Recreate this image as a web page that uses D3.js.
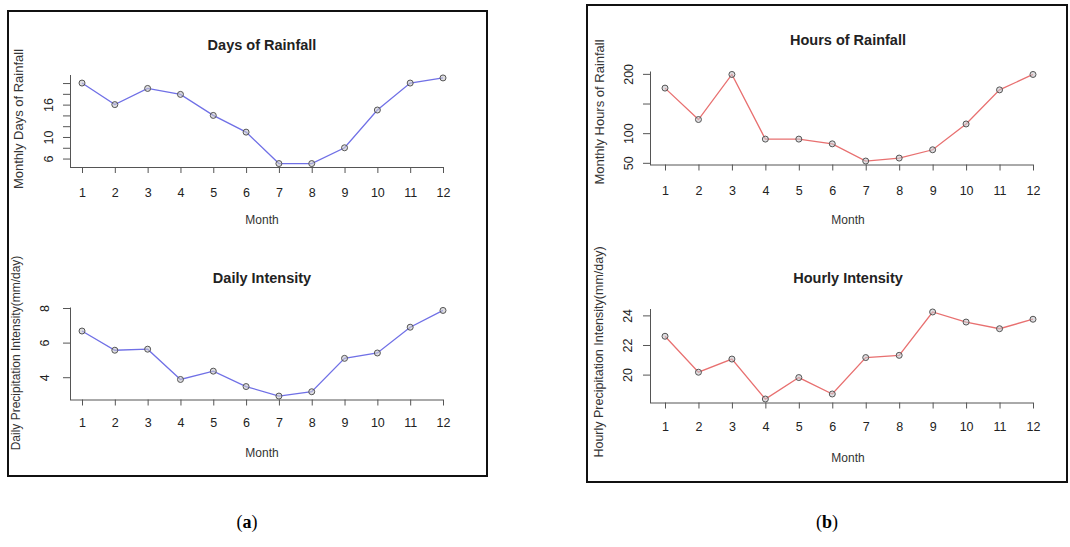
<html>
<head>
<script src="https://d3js.org/d3.v7.min.js"></script>
<style>
  body { margin: 0; background: #fff; }
  text { font-family: "Liberation Sans", Arial, sans-serif; fill: #222; }
  .axis { color: #555; }
  .axis text { fill: #222; }
</style>
</head>
<body>
<div id="graph"></div>
<script>
  // values
  const months = [1, 2, 3, 4, 5, 6, 7, 8, 9, 10, 11, 12];
  const daysOfRain = [20.0, 16.0, 19.0, 17.9, 14.0, 10.9, 5.07, 5.07, 8.0, 15.0, 20.0, 20.95];
  const dailyIntensity = [6.67, 5.56, 5.62, 3.87, 4.35, 3.46, 2.91, 3.16, 5.09, 5.40, 6.89, 7.86];
  const hoursOfRain = [176, 123, 199, 90, 90, 82, 53, 58, 72, 115.5, 173, 199];
  const hourlyIntensity = [22.59, 20.16, 21.05, 18.35, 19.8, 18.69, 21.15, 21.3, 24.23, 23.55, 23.1, 23.74];

  // y tick values and the ones that carry a label
  const daysTicks = [6, 8, 10, 12, 14, 16, 18, 20], daysLabels = [6, 10, 16];
  const dailyTicks = [4, 6, 8], dailyLabels = [4, 6, 8];
  const hoursTicks = [50, 100, 150, 200], hoursLabels = [50, 100, 200];
  const hourlyTicks = [20, 22, 24], hourlyLabels = [20, 22, 24];

  const titles = ['Days of Rainfall', 'Daily Intensity', 'Hours of Rainfall', 'Hourly Intensity'];
  const yTitles = ['Monthly Days of Rainfall', 'Daily Precipitation Intensity(mm/day)',
                   'Monthly Hours of Rainfall', 'Hourly Precipitation Intensity(mm/day)'];
  const xTitle = 'Month';
  const captions = ['a', 'b'];

  var svg = d3.select('#graph')
    .append('svg')
    .attr('width', 1070)
    .attr('height', 547);

  // panel frames
  svg.append('rect').attr('x', 8).attr('y', 11).attr('width', 479).attr('height', 465)
    .attr('fill', 'none').attr('stroke', '#111').attr('stroke-width', 2);
  svg.append('rect').attr('x', 587).attr('y', 5).attr('width', 480).attr('height', 477)
    .attr('fill', 'none').attr('stroke', '#111').attr('stroke-width', 2);

  function plot(o) {
    var x = d3.scaleLinear().domain([1, 12]).range([o.x0, o.x1]);
    // R style: data range padded by 4%
    var ext = d3.extent(o.values), pad = (ext[1] - ext[0]) * 0.04;
    var y = d3.scaleLinear().domain([ext[0] - pad, ext[1] + pad]).range([o.bottom, o.top]);

    // y axis
    var ya = svg.append('g')
      .attr('class', 'axis')
      .attr('transform', 'translate(' + o.left + ',0)')
      .call(d3.axisLeft(y).tickValues(o.ticks).tickSize(7).tickSizeOuter(0)
        .tickFormat(function (d) { return o.labels.indexOf(d) >= 0 ? d : ''; }))
      .attr('font-size', 12.5)
      .attr('font-family', '"Liberation Sans", Arial, sans-serif');
    ya.selectAll('text')
      .attr('transform', 'rotate(-90)')
      .attr('x', 0)
      .attr('y', -o.labelGap)
      .attr('dy', 0)
      .style('text-anchor', 'middle');

    // x axis, line runs from the y axis to month 12
    var xa = svg.append('g')
      .attr('class', 'axis')
      .attr('transform', 'translate(0,' + o.bottom + ')')
      .call(d3.axisBottom(x).tickValues(months).tickSize(6).tickSizeOuter(0).tickPadding(o.xPad))
      .attr('font-size', 12.5)
      .attr('font-family', '"Liberation Sans", Arial, sans-serif');
    xa.select('.domain').remove();
    xa.append('line')
      .attr('x1', o.left).attr('x2', x(12))
      .attr('y1', 0.5).attr('y2', 0.5)
      .attr('stroke', 'currentColor');

    // line
    var line = d3.line()
      .x(function (d, i) { return x(months[i]); })
      .y(function (d) { return y(d); });
    svg.append('path')
      .datum(o.values)
      .attr('d', line)
      .attr('fill', 'none')
      .attr('stroke', o.color)
      .attr('stroke-width', 1.3);

    // points
    svg.append('g')
      .selectAll('circle')
      .data(o.values)
      .enter()
      .append('circle')
      .attr('cx', function (d, i) { return x(months[i]); })
      .attr('cy', function (d) { return y(d); })
      .attr('r', 3)
      .attr('fill', 'rgba(200,200,205,0.6)')
      .attr('stroke', '#555')
      .attr('stroke-width', 1);

    // titles
    svg.append('text')
      .attr('x', o.cx).attr('y', o.titleY)
      .attr('text-anchor', 'middle')
      .style('font-size', '14.5px')
      .style('font-weight', 'bold')
      .text(o.title);
    svg.append('text')
      .attr('x', o.cx).attr('y', o.monthY)
      .attr('text-anchor', 'middle')
      .style('font-size', '12px')
      .style('fill', '#333')
      .text(xTitle);
    svg.append('text')
      .attr('transform', 'translate(' + o.yTitleX + ',' + o.yTitleY + ') rotate(-90)')
      .attr('text-anchor', 'middle')
      .attr('dy', '0.35em')
      .style('font-size', o.yTitleSize + 'px')
      .style('fill', '#333')
      .text(o.yTitle);
  }

  plot({ values: daysOfRain, ticks: daysTicks, labels: daysLabels, color: '#7070e6',
    x0: 82, x1: 443, left: 70, top: 74.5, bottom: 167, labelGap: 17, xPad: 15,
    cx: 262, titleY: 50, monthY: 224, title: titles[0],
    yTitle: yTitles[0], yTitleX: 18, yTitleY: 119, yTitleSize: 13 });

  plot({ values: dailyIntensity, ticks: dailyTicks, labels: dailyLabels, color: '#7070e6',
    x0: 82, x1: 443, left: 70, top: 307, bottom: 399.5, labelGap: 21, xPad: 13,
    cx: 262, titleY: 283, monthY: 457, title: titles[1],
    yTitle: yTitles[1], yTitleX: 16, yTitleY: 353, yTitleSize: 12 });

  plot({ values: hoursOfRain, ticks: hoursTicks, labels: hoursLabels, color: '#e87070',
    x0: 665, x1: 1033, left: 650, top: 71, bottom: 164.5, labelGap: 17, xPad: 15.5,
    cx: 848, titleY: 45, monthY: 224, title: titles[2],
    yTitle: yTitles[2], yTitleX: 599, yTitleY: 112, yTitleSize: 13 });

  plot({ values: hourlyIntensity, ticks: hourlyTicks, labels: hourlyLabels, color: '#e87070',
    x0: 665, x1: 1033, left: 650, top: 308.5, bottom: 402.5, labelGap: 18, xPad: 14,
    cx: 848, titleY: 283, monthY: 462, title: titles[3],
    yTitle: yTitles[3], yTitleX: 599, yTitleY: 352, yTitleSize: 12.5 });

  // captions (a) (b)
  var capX = [247, 827];
  captions.forEach(function (c, i) {
    var t = svg.append('text')
      .attr('x', capX[i]).attr('y', 528)
      .attr('text-anchor', 'middle')
      .style('font-family', '"Liberation Serif", "Times New Roman", serif')
      .style('font-size', '18px')
      .style('fill', '#000');
    t.append('tspan').text('(');
    t.append('tspan').style('font-weight', 'bold').text(c);
    t.append('tspan').text(')');
  });
</script>
</body>
</html>
